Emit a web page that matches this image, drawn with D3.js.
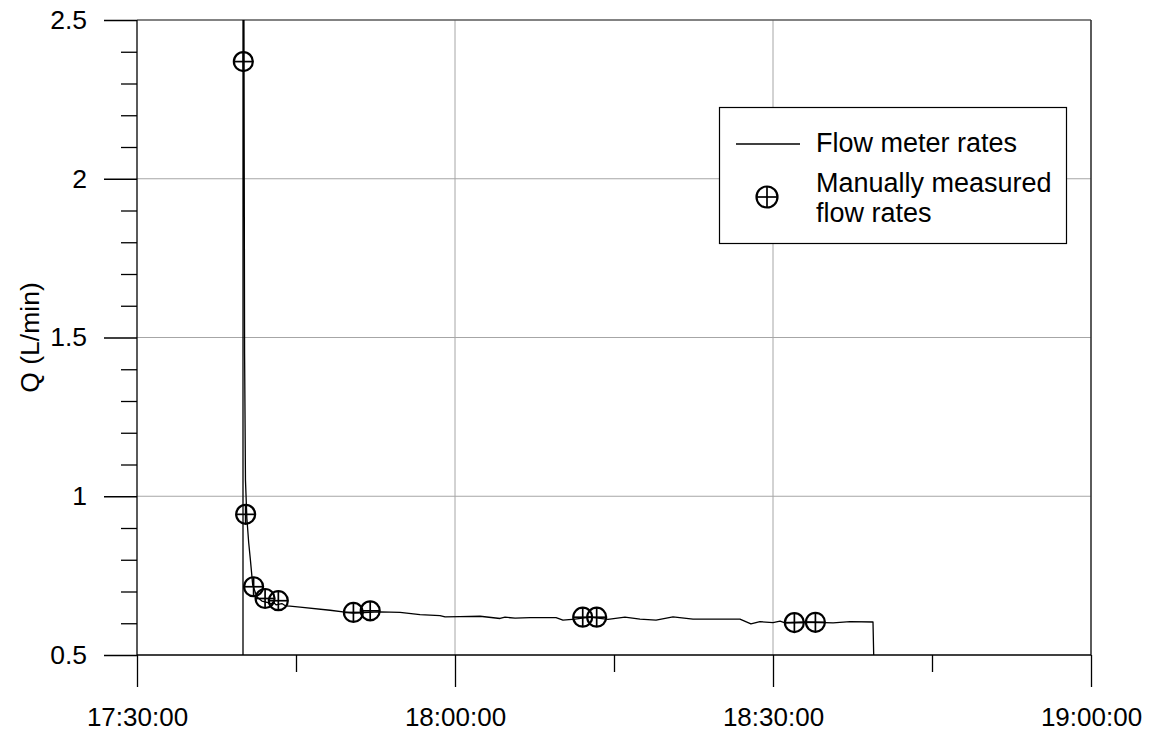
<!DOCTYPE html>
<html>
<head>
<meta charset="utf-8">
<script src="https://cdn.jsdelivr.net/npm/d3@7"></script>
<style>
  html, body { margin: 0; padding: 0; background: #fff; }
  svg { display: block; font-family: "Liberation Sans", Arial, sans-serif; }
</style>
</head>
<body>
<svg id="chart" width="1151" height="733"></svg>
<script>
// Flow meter record (clock time, Q in L/min)
const meterTimes = [
  "17:40:00", "17:40:00", "17:40:04", "17:40:09", "17:40:14", "17:40:22", "17:40:32", "17:40:42",
  "17:40:55", "17:41:19", "17:41:47", "17:42:21", "17:42:40", "17:42:50", "17:43:07",
  "17:43:40", "17:44:00", "17:44:26", "17:45:23", "17:48:13", "17:49:37", "17:50:23",
  "17:52:55", "17:54:49", "17:56:42", "17:58:35", "17:59:04", "18:00:28", "18:02:22",
  "18:04:15", "18:04:43", "18:05:40", "18:07:05", "18:09:32", "18:10:11", "18:11:19",
  "18:12:44", "18:14:26", "18:16:02", "18:17:27", "18:18:58", "18:20:34", "18:22:27",
  "18:26:53", "18:27:55", "18:28:46", "18:30:00", "18:30:40", "18:31:08", "18:33:01",
  "18:35:40", "18:37:16", "18:39:26", "18:39:30"
];
const meterQ = [
  0.50, 2.90, 2.90, 1.45, 1.05, 0.93, 0.855, 0.799,
  0.720, 0.683, 0.670, 0.665, 0.660, 0.667, 0.658,
  0.662, 0.655, 0.654, 0.651, 0.641, 0.635, 0.632,
  0.636, 0.634, 0.627, 0.624, 0.620, 0.621, 0.622,
  0.615, 0.619, 0.616, 0.618, 0.618, 0.610, 0.613,
  0.619, 0.612, 0.619, 0.613, 0.610, 0.620, 0.613,
  0.613, 0.598, 0.605, 0.602, 0.607, 0.601, 0.604,
  0.601, 0.605, 0.604, 0.50
];

// Manually measured flow rates
const manualTimes = [
  "17:40:02", "17:40:15", "17:41:00", "17:42:05", "17:43:20", "17:50:25",
  "17:52:00", "18:12:03", "18:13:22", "18:32:01", "18:34:00"
];
const manualQ = [2.369, 0.943, 0.715, 0.678, 0.671, 0.634, 0.639, 0.619, 0.619, 0.602, 0.603];

// Axis ticks
const xMajorTicks = ["17:30:00", "18:00:00", "18:30:00", "19:00:00"];
const xMinorTicks = ["17:45:00", "18:15:00", "18:45:00"];
const yMajorTicks = [0.5, 1, 1.5, 2, 2.5];
const yMinorTicks = [0.6, 0.7, 0.8, 0.9, 1.1, 1.2, 1.3, 1.4, 1.6, 1.7, 1.8, 1.9, 2.1, 2.2, 2.3, 2.4];

const yLabel = "Q (L/min)";
const legendLine = "Flow meter rates";
const legendMarker = ["Manually measured", "flow rates"];

const parseT = d3.timeParse("%H:%M:%S");
const fmtT = d3.timeFormat("%H:%M:%S");

const W = 1151, H = 733;
const margin = { top: 20, right: 60, bottom: 78, left: 137 };
const iw = W - margin.left - margin.right;
const ih = H - margin.top - margin.bottom;

const svg = d3.select("#chart");
const g = svg.append("g").attr("transform", `translate(${margin.left},${margin.top})`);

const x = d3.scaleTime()
  .domain([parseT("17:30:00"), parseT("19:00:00")])
  .range([0, iw]);
const y = d3.scaleLinear().domain([0.5, 2.5]).range([ih, 0]);

const FS = 26.5;
const XFS = 26;
const LFS = 27;

// Grid lines
g.append("g").selectAll("line")
  .data(yMajorTicks.filter(v => v > 0.5 && v < 2.5))
  .join("line")
  .attr("x1", 0).attr("x2", iw)
  .attr("y1", d => y(d)).attr("y2", d => y(d))
  .attr("stroke", "#a6a6a6").attr("stroke-width", 1);
g.append("g").selectAll("line")
  .data(xMajorTicks.slice(1, -1).map(parseT))
  .join("line")
  .attr("x1", d => x(d)).attr("x2", d => x(d))
  .attr("y1", 0).attr("y2", ih)
  .attr("stroke", "#a6a6a6").attr("stroke-width", 1);

// Frame: top and right edges
g.append("line")
  .attr("x1", 0).attr("x2", iw).attr("y1", y(2.5)).attr("y2", y(2.5))
  .attr("stroke", "#5a5a5a").attr("stroke-width", 1.6);
g.append("line")
  .attr("x1", x(parseT("19:00:00"))).attr("x2", x(parseT("19:00:00")))
  .attr("y1", 0).attr("y2", ih)
  .attr("stroke", "#333").attr("stroke-width", 1.6);

// Axes
const xAxisMajor = d3.axisBottom(x)
  .tickValues(xMajorTicks.map(parseT))
  .tickFormat(fmtT)
  .tickSize(32).tickSizeOuter(0).tickPadding(21);
const xAxisMinor = d3.axisBottom(x)
  .tickValues(xMinorTicks.map(parseT))
  .tickFormat("")
  .tickSize(17).tickSizeOuter(0);
const yAxisMajor = d3.axisLeft(y)
  .tickValues(yMajorTicks)
  .tickFormat(d3.format("~g"))
  .tickSize(33).tickSizeOuter(0).tickPadding(17);
const yAxisMinor = d3.axisLeft(y)
  .tickValues(yMinorTicks)
  .tickFormat("")
  .tickSize(16).tickSizeOuter(0);

function styleAxis(size) {
  return function (sel) {
    sel.select(".domain").remove();
    sel.selectAll(".tick line").attr("stroke", "#000").attr("stroke-width", 1.3);
    sel.selectAll(".tick text")
      .attr("fill", "#000")
      .style("font-size", size + "px")
      .style("font-family", '"Liberation Sans", Arial, sans-serif');
  };
}

g.append("g").attr("transform", `translate(0,${ih})`).call(xAxisMinor).call(styleAxis(XFS));
g.append("g").attr("transform", `translate(0,${ih})`).call(xAxisMajor).call(styleAxis(XFS));
g.append("g").call(yAxisMinor).call(styleAxis(FS));
g.append("g").call(yAxisMajor).call(styleAxis(FS));

// Axis lines
g.append("line").attr("x1", 0).attr("x2", iw).attr("y1", ih).attr("y2", ih)
  .attr("stroke", "#000").attr("stroke-width", 1.3);
g.append("line").attr("x1", 0).attr("x2", 0).attr("y1", 0).attr("y2", ih)
  .attr("stroke", "#000").attr("stroke-width", 1.3);

// Y axis title
svg.append("text")
  .attr("transform", `translate(39,${margin.top + ih / 2}) rotate(-90)`)
  .attr("text-anchor", "middle")
  .style("font-size", FS + "px")
  .attr("fill", "#000")
  .text(yLabel);

// Clip region for the data
svg.append("defs").append("clipPath").attr("id", "plotClip")
  .append("rect").attr("x", 0).attr("y", 0).attr("width", iw).attr("height", ih);

const meter = meterTimes.map((t, i) => ({ t: parseT(t), q: meterQ[i] }));
const manual = manualTimes.map((t, i) => ({ t: parseT(t), q: manualQ[i] }));

const dataG = g.append("g").attr("clip-path", "url(#plotClip)");

dataG.append("path")
  .datum(meter)
  .attr("fill", "none")
  .attr("stroke", "#000")
  .attr("stroke-width", 1.3)
  .attr("stroke-linejoin", "round")
  .attr("d", d3.line().x(d => x(d.t)).y(d => y(d.q)));

// Circle-plus markers
function drawMarker(sel, r) {
  sel.append("circle").attr("r", r)
    .attr("fill", "none").attr("stroke", "#000").attr("stroke-width", 2.2);
  sel.append("line").attr("x1", -r).attr("x2", r)
    .attr("stroke", "#000").attr("stroke-width", 1.7);
  sel.append("line").attr("y1", -r).attr("y2", r)
    .attr("stroke", "#000").attr("stroke-width", 1.7);
}

g.append("g").selectAll("g")
  .data(manual)
  .join("g")
  .attr("transform", d => `translate(${x(d.t)},${y(d.q)})`)
  .each(function () { drawMarker(d3.select(this), 9.5); });

// Legend
const lg = svg.append("g");
lg.append("rect")
  .attr("x", 719.5).attr("y", 107.5).attr("width", 347).attr("height", 136)
  .attr("fill", "#fff").attr("stroke", "#000").attr("stroke-width", 1.2);
lg.append("line")
  .attr("x1", 736).attr("x2", 800).attr("y1", 144).attr("y2", 144)
  .attr("stroke", "#000").attr("stroke-width", 1.3);
lg.append("text").attr("x", 816).attr("y", 152)
  .style("font-size", LFS + "px").attr("fill", "#000").text(legendLine);
const lm = lg.append("g").attr("transform", "translate(767,197)");
drawMarker(lm, 10.5);
lg.append("text").attr("x", 816).attr("y", 192)
  .style("font-size", LFS + "px").attr("fill", "#000").text(legendMarker[0]);
lg.append("text").attr("x", 816).attr("y", 222)
  .style("font-size", LFS + "px").attr("fill", "#000").text(legendMarker[1]);
</script>
</body>
</html>
